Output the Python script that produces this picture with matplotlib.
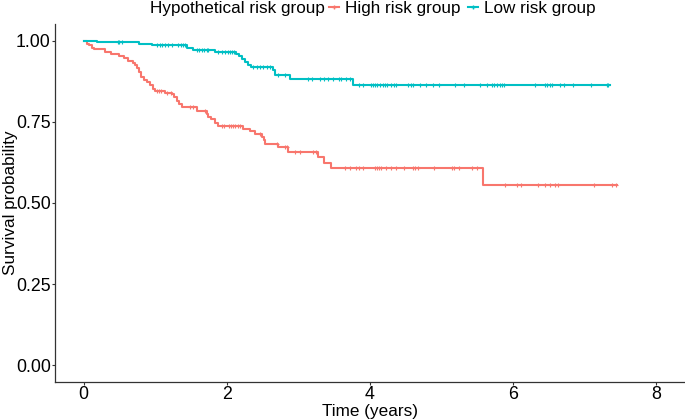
import numpy as np
import matplotlib
matplotlib.use("Agg")
import matplotlib.pyplot as plt
from matplotlib.lines import Line2D

plt.rcParams['font.family'] = ['Liberation Sans', 'DejaVu Sans']

# Kaplan-Meier steps
times_high = [0, 0.05, 0.08, 0.11, 0.15, 0.30, 0.38, 0.50, 0.57, 0.62, 0.69, 0.72,
              0.75, 0.77, 0.80, 0.85, 0.89, 0.92, 0.97, 0.99, 1.13, 1.23, 1.26, 1.30,
              1.33, 1.37, 1.59, 1.72, 1.74, 1.78, 1.83, 1.88, 2.22, 2.32, 2.39, 2.49,
              2.52, 2.54, 2.71, 2.85, 3.27, 3.36, 3.45, 5.58, 7.45]
surv_high = [1.0, 0.99, 0.985, 0.978, 0.973, 0.965, 0.96, 0.952, 0.945, 0.937, 0.931, 0.924,
             0.914, 0.904, 0.888, 0.88, 0.873, 0.862, 0.852, 0.845, 0.837, 0.834, 0.825, 0.814,
             0.806, 0.794, 0.784, 0.775, 0.765, 0.757, 0.745, 0.736, 0.727, 0.722, 0.712, 0.704,
             0.693, 0.680, 0.671, 0.658, 0.642, 0.624, 0.607, 0.556, 0.556]
censor_high = [1.02, 1.05, 1.08, 1.17, 1.22, 1.48, 1.53, 1.69, 1.93, 1.96, 2.03, 2.06,
               2.09, 2.12, 2.16, 2.19, 2.46, 2.70, 2.81, 2.84, 2.95, 3.02, 3.20, 3.25,
               3.65, 3.72, 3.80, 3.85, 3.90, 4.07, 4.10, 4.13, 4.16, 4.22, 4.30, 4.37,
               4.48, 4.60, 4.63, 4.67, 4.89, 5.14, 5.17, 5.25, 5.42, 5.50, 5.89, 6.05,
               6.11, 6.34, 6.45, 6.52, 6.59, 6.62, 7.13, 7.38, 7.43]

times_low = [0, 0.19, 0.78, 0.95, 1.44, 1.53, 1.83, 2.13, 2.17, 2.21, 2.25, 2.29,
             2.34, 2.65, 2.67, 2.88, 3.76, 7.35]
surv_low = [1.0, 0.995, 0.990, 0.985, 0.978, 0.971, 0.964, 0.958, 0.951, 0.944, 0.934, 0.926,
            0.919, 0.908, 0.894, 0.881, 0.862, 0.862]
censor_low = [0.48, 0.50, 0.53, 1.02, 1.06, 1.10, 1.13, 1.18, 1.23, 1.32, 1.36, 1.39,
              1.41, 1.58, 1.61, 1.65, 1.68, 1.72, 1.74, 1.88, 1.93, 1.97, 2.01, 2.04,
              2.07, 2.10, 2.37, 2.42, 2.46, 2.51, 2.56, 2.60, 2.72, 2.81, 3.14, 3.19,
              3.30, 3.36, 3.42, 3.49, 3.56, 3.60, 3.66, 3.72, 3.84, 3.90, 4.01, 4.04,
              4.07, 4.10, 4.14, 4.18, 4.21, 4.24, 4.30, 4.34, 4.37, 4.53, 4.57, 4.60,
              4.70, 4.78, 4.88, 4.97, 5.19, 5.31, 5.54, 5.63, 5.70, 5.73, 5.77, 5.81,
              5.84, 5.87, 6.31, 6.44, 6.47, 6.51, 6.54, 6.66, 6.71, 6.83, 7.09, 7.31, 7.33]

groups = ["High risk group", "Low risk group"]
colors = ["#F8766D", "#00BFC4"]


def surv_at(times, surv, t):
    idx = np.searchsorted(times, t, side="right") - 1
    return np.asarray(surv)[idx]


fig = plt.figure(figsize=(6.85, 4.2), dpi=100)
ax = fig.add_axes([0.0803, 0.0912, 0.9197, 0.851])

data = [(times_high, surv_high, censor_high), (times_low, surv_low, censor_low)]
for (t, s, c), col in zip(data, colors):
    ax.step(t, s, where="post", color=col, lw=1.5)
    ax.plot(c, surv_at(t, s, c), ls="none", marker="+", ms=3, mew=0.8, color=col)

ax.set_xlim(-0.4, 8.4)
ax.set_ylim(-0.05, 1.05)
ax.set_xticks([0, 2, 4, 6, 8])
ax.set_yticks([0, 0.25, 0.5, 0.75, 1.0])
ax.set_yticklabels(["0.00", "0.25", "0.50", "0.75", "1.00"])
ax.tick_params(labelsize=12.8, length=2.3, width=0.8, color="#333333", labelcolor="black", pad=0.8)
for side in ["top", "right"]:
    ax.spines[side].set_visible(False)
for side in ["left", "bottom"]:
    ax.spines[side].set_linewidth(0.9)
    ax.spines[side].set_color("#333333")

ax.set_xlabel("Time (years)", fontsize=12.3, labelpad=1)
ax.set_ylabel("Survival probability", fontsize=12.3)
ax.yaxis.set_label_coords(-0.058, 0.5)

fig.text(150 / 685, 1 - 8 / 420, "Hypothetical risk group", fontsize=12.3, va="center", ha="left")
handles = [Line2D([], [], color=col, lw=1.5, marker="+", ms=3) for col in colors]
fig.legend(handles, groups, loc="center left", bbox_to_anchor=(329 / 685, 1 - 8 / 420),
           ncol=2, frameon=False, fontsize=12.3, handlelength=0.6, handletextpad=0.35,
           columnspacing=0.4, borderpad=0, borderaxespad=0)

fig.savefig("out.png", dpi=100)
